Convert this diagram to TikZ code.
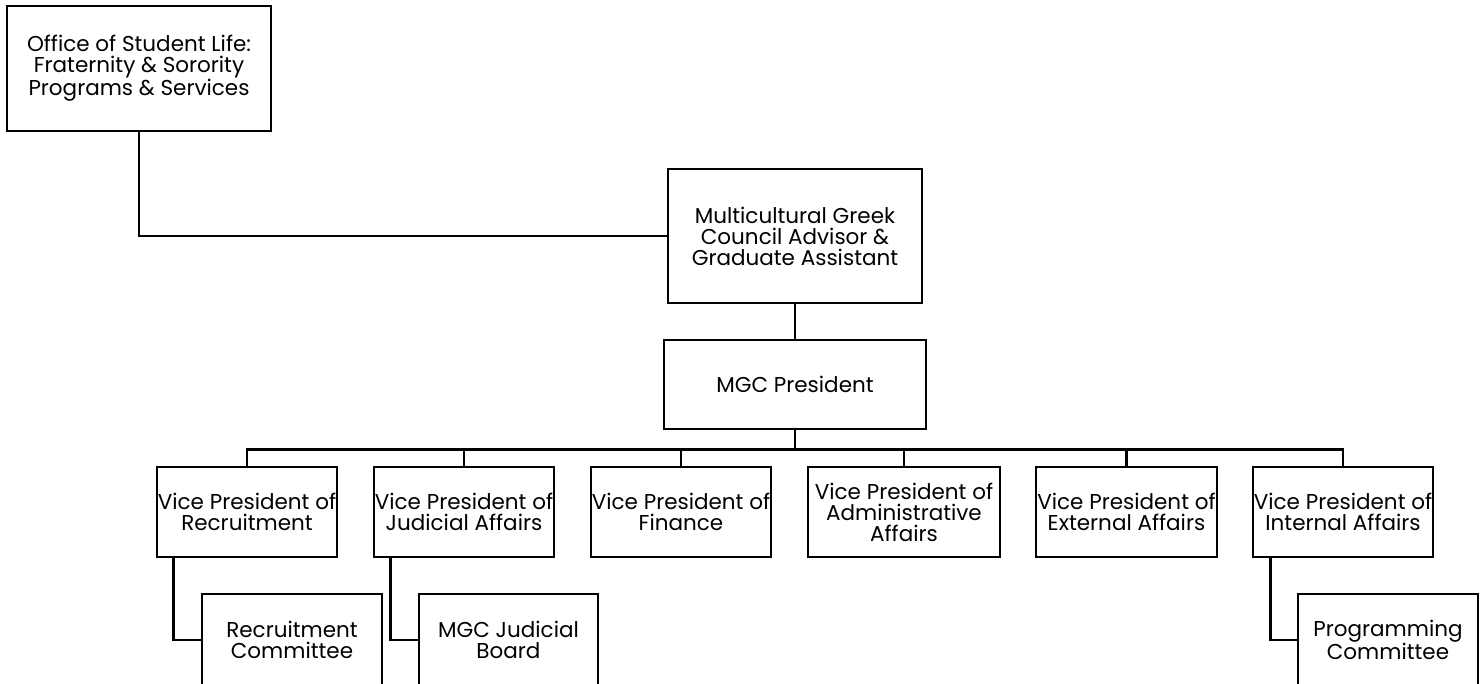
\documentclass[tikz,border=0pt]{standalone}
\usepackage{fontspec}
\setmainfont{Poppins}
\usetikzlibrary{calc}
\begin{document}
\begin{tikzpicture}[x=1pt,y=-1pt,
  box/.style={draw,line width=2.8pt,rectangle,inner sep=0pt,align=center,
    font=\fontsize{21.5}{21}\selectfont},
  link/.style={line width=2.8pt}]
\useasboundingbox (0,0) rectangle (1481,683);
\node[box,minimum width=264pt,minimum height=125pt] (office) at (139,68.5) {Office of Student Life:\\Fraternity \& Sorority\\Programs \& Services};
\node[box,minimum width=254pt,minimum height=134pt] (adv) at (795,236) {Multicultural Greek\\Council Advisor \&\\Graduate Assistant};
\node[box,minimum width=262pt,minimum height=89pt] (pres) at (795,384.5) {MGC President};
\node[box,minimum width=180pt,minimum height=90pt] (vp1) at (247,512) {Vice President of\\Recruitment};
\node[box,minimum width=180pt,minimum height=90pt] (vp2) at (464,512) {Vice President of\\Judicial Affairs};
\node[box,minimum width=180pt,minimum height=90pt] (vp3) at (681,512) {Vice President of\\Finance};
\node[box,minimum width=192pt,minimum height=90pt] (vp4) at (904,512) {Vice President of\\Administrative\\Affairs};
\node[box,minimum width=181pt,minimum height=90pt] (vp5) at (1126.5,512) {Vice President of\\External Affairs};
\node[box,minimum width=180pt,minimum height=90pt] (vp6) at (1343,512) {Vice President of\\Internal Affairs};
\node[box,minimum width=180pt,minimum height=92pt] (rc) at (292,640) {Recruitment\\Committee};
\node[box,minimum width=179pt,minimum height=92pt] (jb) at (508.5,640) {MGC Judicial\\Board};
\node[box,minimum width=180pt,minimum height=92pt] (pc) at (1388,640) {Programming\\Committee};
\draw[link] (office.south) |- (adv.west);
\draw[link] (adv.south) -- (pres.north);
\draw[link] (pres.south) -- ++(0,19) coordinate (bus);
\foreach \v in {vp1,vp2,vp3,vp4,vp5,vp6} \draw[link] (\v.north) |- (bus);
\draw[link] ($(vp1.south west)+(18,0)$) |- (rc.west);
\draw[link] ($(vp2.south west)+(18,0)$) |- (jb.west);
\draw[link] ($(vp6.south west)+(19,0)$) |- (pc.west);
\end{tikzpicture}
\end{document}
